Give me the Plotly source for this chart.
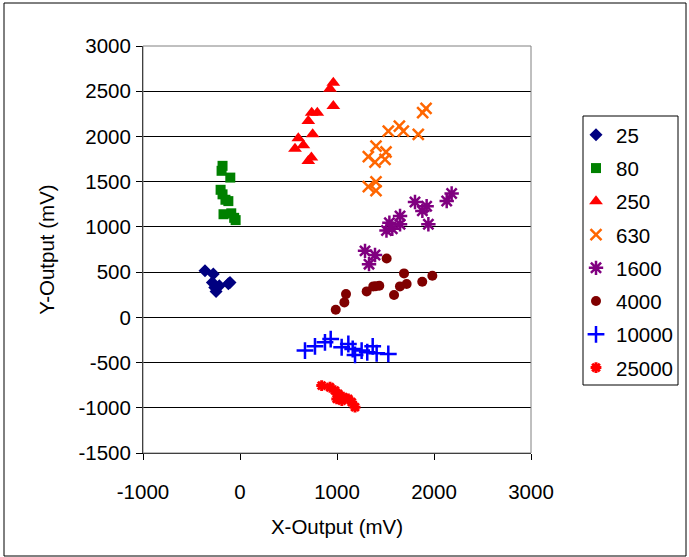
import plotly.graph_objects as go

# ---- data (mV) ----
names = ["25", "80", "250", "630", "1600", "4000", "10000", "25000"]

x_25 = [-361, -275, -285, -213, -247, -103, -260, -120]
y_25 = [514, 478, 386, 349, 287, 386, 330, 370]

x_80 = [-180, -190, -100, -200, -180, -150, -120, -170, -90, -60, -45]
y_80 = [1675, 1620, 1545, 1410, 1360, 1300, 1285, 1140, 1150, 1100, 1075]

x_250 = [962, 928, 962, 739, 797, 704, 749, 601, 653, 567, 736, 704]
y_250 = [2594, 2528, 2336, 2263, 2263, 2170, 2023, 1979, 1902, 1865, 1766, 1729]

x_630 = [1918, 1883, 1529, 1643, 1684, 1838, 1402, 1323, 1505, 1392, 1495, 1323, 1402, 1402]
y_630 = [2310, 2263, 2060, 2115, 2060, 2023, 1894, 1777, 1828, 1717, 1747, 1446, 1497, 1400]

x_1600 = [2182, 2131, 1804, 1924, 1880, 1942, 1650, 1650, 1540, 1510, 1570, 1289, 1392, 1330]
y_1600 = [1369, 1287, 1276, 1228, 1177, 1030, 1120, 1030, 1045, 960, 980, 735, 690, 588]

x_4000 = [1512, 1691, 1983, 1879, 1718, 1649, 1588, 1436, 1400, 1374, 1306, 1093, 1076, 987]
y_4000 = [651, 486, 459, 393, 368, 342, 246, 349, 345, 342, 287, 257, 165, 84]

x_10000 = [670, 773, 876, 935, 1048, 1117, 1162, 1186, 1254, 1312, 1368, 1409, 1529]
y_10000 = [-368, -320, -276, -240, -331, -295, -350, -416, -368, -386, -320, -397, -405]

x_25000 = [842, 928, 979, 1014, 1065, 997, 1117, 1152, 1186, 1050]
y_25000 = [-755, -773, -810, -847, -883, -902, -902, -938, -993, -920]

x_ticks = [-1000, 0, 1000, 2000, 3000]
x_ticktext = ["-1000", "0", "1000", "2000", "3000"]
y_ticks = [-1500, -1000, -500, 0, 500, 1000, 1500, 2000, 2500, 3000]
y_ticktext = ["-1500", "-1000", "-500", "0", "500", "1000", "1500", "2000", "2500", "3000"]

xs = [x_25, x_80, x_250, x_630, x_1600, x_4000, x_10000, x_25000]
ys = [y_25, y_80, y_250, y_630, y_1600, y_4000, y_10000, y_25000]

# ---- styles ----
colors = ["#000080", "#008000", "#FF0000", "#FF6600", "#800080", "#800000", "#0000FF", "#FF0000"]
symbols = ["diamond", "square", "triangle-up", "x-thin-open", "asterisk-open", "circle", "cross-thin-open", "asterisk-open"]
sizes = [10, 10, 12, 11, 12, 10, 12, 9]
lw = [0, 0, 0, 2.5, 2.5, 0, 2.5, 3]

FONT = "Liberation Sans, Arial, sans-serif"

fig = go.Figure()
for i, n in enumerate(names):
    fig.add_trace(go.Scatter(
        x=xs[i], y=ys[i], mode="markers", name=n, legendgroup=n,
        marker=dict(symbol=symbols[i], size=sizes[i], color=colors[i],
                    line=dict(width=lw[i], color=colors[i])),
    ))

L, R, T, B = 143, 689 - 531, 46, 557 - 453
W, H = 689, 557
pw, ph = W - L - R, H - T - B


def px(xp):
    return (xp - L) / pw


def py(yp):
    return (H - B - yp) / ph


fig.update_layout(
    width=W, height=H,
    margin=dict(l=L, r=R, t=T, b=B, pad=0, autoexpand=False),
    paper_bgcolor="white", plot_bgcolor="white",
    font=dict(family=FONT, size=20, color="black"),
    showlegend=True,
    legend=dict(
        x=px(576), y=py(115), xanchor="left", yanchor="top",
        borderwidth=0, bgcolor="rgba(0,0,0,0)",
        font=dict(size=20.5), tracegroupgap=3.6, itemwidth=30,
    ),
    xaxis=dict(
        range=[-1000, 3000], tickvals=x_ticks, ticktext=x_ticktext,
        showgrid=False, zeroline=False, showline=True, linecolor="black", linewidth=1,
        ticks="outside", ticklen=6, tickcolor="black", automargin=False,
        title=dict(text="X-Output (mV)", standoff=18, font=dict(size=20.5)),
        tickfont=dict(size=20.5), ticklabelstandoff=14,
    ),
    yaxis=dict(
        range=[-1500, 3000], tickvals=y_ticks, ticktext=y_ticktext,
        showgrid=True, gridcolor="black", gridwidth=1, zeroline=False,
        showline=True, linecolor="black", linewidth=1,
        ticks="outside", ticklen=6, tickcolor="black", automargin=False,
        title=dict(text="Y-Output (mV)", standoff=18, font=dict(size=20.5)),
        tickfont=dict(size=20.5), ticklabelstandoff=1,
    ),
    shapes=[
        dict(type="rect", xref="paper", yref="paper", x0=0, x1=1, y0=0, y1=1,
             line=dict(color="#808080", width=1), layer="above"),
        dict(type="rect", xref="paper", yref="paper",
             x0=px(4), x1=px(686), y0=py(556), y1=py(3),
             line=dict(color="black", width=1)),
        dict(type="rect", xref="paper", yref="paper",
             x0=px(583), x1=px(678), y0=py(385), y1=py(116),
             line=dict(color="black", width=1)),
    ],
)

fig.write_html("out.html", config={"displayModeBar": False},
               post_script="document.body.style.margin='0';")
